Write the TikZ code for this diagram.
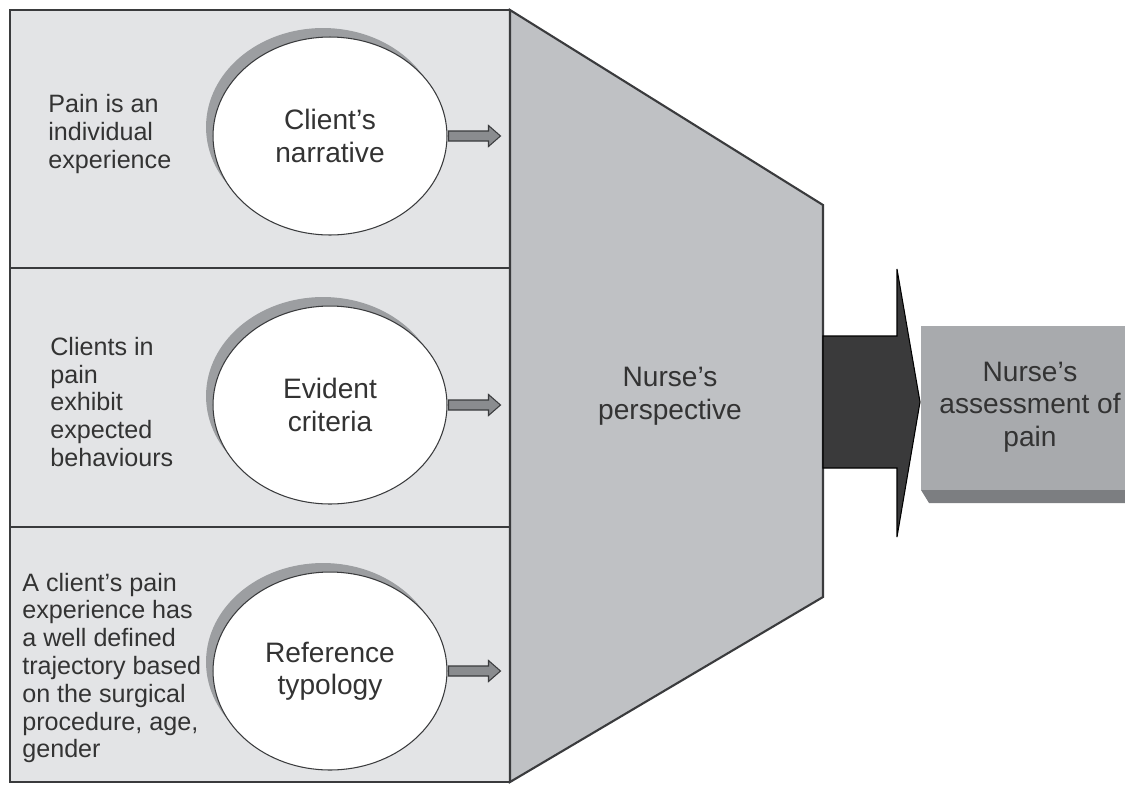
\documentclass[tikz,border=0pt]{standalone}
\usepackage{fontspec}
\setmainfont{Liberation Sans}
\usetikzlibrary{shapes.geometric}
\definecolor{ink}{HTML}{333333}
\definecolor{edge}{HTML}{3A3B3D}
\definecolor{panelgrey}{HTML}{E3E4E6}
\definecolor{funnelgrey}{HTML}{BFC1C4}
\definecolor{shadegrey}{HTML}{9C9EA1}
\definecolor{arrowgrey}{HTML}{8A8C8F}
\definecolor{darkarrow}{HTML}{3A3A3B}
\definecolor{boxgrey}{HTML}{A8AAAD}
\definecolor{bevelgrey}{HTML}{7C7E81}

\begin{document}
\begin{tikzpicture}[x=0.02cm, y=-0.02cm, font=\fontsize{14.3}{15.8}\selectfont]
  % --- pixel frame of the figure: x to the right, y downwards --------------
  \def\pl{10}     % left edge of the three panels
  \def\pr{510}    % right edge of the panels = left edge of the funnel
  \def\ra{10}     % top of panel 1
  \def\rb{268}    % panel 1 / panel 2
  \def\rc{527}    % panel 2 / panel 3
  \def\rd{782}    % bottom of panel 3
  \def\fr{823}    % right edge of the funnel

  \tikzset{
    panel/.style={draw=edge, fill=panelgrey, line width=0.8pt},
    claim/.style={anchor=west, inner sep=0pt, align=left, text=ink},
    bubble/.style={ellipse, draw=edge, fill=white, line width=0.6pt,
      minimum width=4.68cm, minimum height=3.96cm, inner sep=0pt,
      align=center, text=ink, font=\fontsize{16}{18.5}\selectfont},
    bubbleshade/.style={fill=shadegrey, x radius=2.34cm, y radius=1.98cm},
    feed/.style={draw=edge, fill=arrowgrey, line width=0.6pt, line join=miter},
    funnel/.style={draw=edge, fill=funnelgrey, line width=1.2pt, line join=miter},
    outflow/.style={draw=black, fill=darkarrow, line width=0.6pt, line join=miter},
    result/.style={fill=boxgrey},
    bevel/.style={fill=bevelgrey},
    big/.style={align=center, text=ink, inner sep=0pt,
      font=\fontsize{16}{18.5}\selectfont}}

  \useasboundingbox (0,0) rectangle (1125,785);

  % ---- 1. the three panels ------------------------------------------------
  \draw[panel] (\pl,\ra) rectangle (\pr,\rb);
  \draw[panel] (\pl,\rb) rectangle (\pr,\rc);
  \draw[panel] (\pl,\rc) rectangle (\pr,\rd);

  % ---- 2. the funnel ------------------------------------------------------
  \draw[funnel] (\pr,\ra) -- (\fr,205) -- (\fr,597) -- (\pr,\rd) -- cycle;
  \node[big] (np) at (670,396) {Nurse's\\perspective};

  % ---- 3. the beliefs, left of each bubble --------------------------------
  \node[claim] (pi) at (48,134) {Pain is an\\individual\\experience};
  \node[claim] (cp) at (50,402) {Clients in\\pain\\exhibit\\expected\\behaviours};
  \node[claim] (ac) at (22,668) {A client's pain\\experience has\\a well defined\\
    trajectory based\\on the surgical\\procedure, age,\\gender};

  % ---- 4. the bubbles, each with its crescent shadow ----------------------
  \foreach \cy in {136,405,671}{
    \fill[bubbleshade] (323,\cy-9) ellipse [];}
  \node[bubble] (cn) at (330,136) {Client's\\narrative};
  \node[bubble] (ec) at (330,405) {Evident\\criteria};
  \node[bubble] (rt) at (330,671) {Reference\\typology};

  % ---- 5. small block arrows from each bubble into the funnel -------------
  \foreach \e in {cn,ec,rt}{
    \draw[feed] (\e.east) ++(1,-5) -- ++(40,0) -- ++(0,-5.5) -- ++(12,10.5)
      -- ++(-12,10.5) -- ++(0,-5.5) -- ++(-40,0) -- cycle;}

  % ---- 6. the big arrow and the assessment box ----------------------------
  \draw[outflow] (\fr,336) -- (897,336) -- (897,269) -- (920,402)
    -- (897,537) -- (897,468) -- (\fr,468) -- cycle;
  \fill[result] (921,326) rectangle (1130,490);
  \fill[bevel] (921,490) -- (1130,490) -- (1130,503) -- (929,503) -- cycle;
  \node[big] (na) at (1030,407) {Nurse's\\assessment of\\pain};
\end{tikzpicture}
\end{document}
